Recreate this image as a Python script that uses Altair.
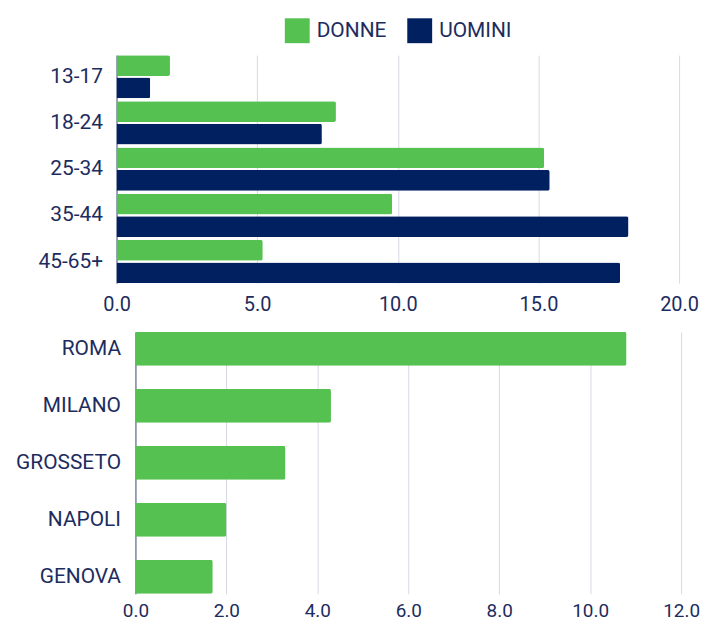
import altair as alt
import pandas as pd

# ---- data ----
age_groups = ["13-17", "18-24", "25-34", "35-44", "45-65+"]
donne = [1.9, 7.8, 15.2, 9.8, 5.2]
uomini = [1.2, 7.3, 15.4, 18.2, 17.9]
genders = ["DONNE", "UOMINI"]
age_ticks = [0, 5, 10, 15, 20]

cities = ["ROMA", "MILANO", "GROSSETO", "NAPOLI", "GENOVA"]
city_values = [10.8, 4.3, 3.3, 2.0, 1.7]
city_ticks = [0, 2, 4, 6, 8, 10, 12]

GREEN = "#55C150"
NAVY = "#002060"
TEXT = "#1d2c5e"
GRID = "#d6dae5"
DOMAIN = "#4a5682"

rows = []
for a, d, u in zip(age_groups, donne, uomini):
    rows.append({"age": a, "gender": "DONNE", "value": d})
    rows.append({"age": a, "gender": "UOMINI", "value": u})
age_df = pd.DataFrame(rows)
city_df = pd.DataFrame({"city": cities, "value": city_values})

top = alt.Chart(age_df).mark_bar(cornerRadiusEnd=2).encode(
    x=alt.X("value:Q",
            scale=alt.Scale(domain=[0, 20], nice=False),
            axis=alt.Axis(values=age_ticks, format=".1f", title=None, grid=True,
                          domain=False, ticks=False, labelPadding=11,
                          labelFlush=False)),
    y=alt.Y("age:N", sort=age_groups,
            scale=alt.Scale(paddingInner=0.065, paddingOuter=0),
            axis=alt.Axis(title=None, ticks=False, labelPadding=14, grid=False,
                          domain=True, domainColor=DOMAIN)),
    yOffset=alt.YOffset("gender:N", sort=genders,
                        scale=alt.Scale(paddingInner=0.075, paddingOuter=0)),
    color=alt.Color("gender:N", sort=genders,
                    scale=alt.Scale(domain=genders, range=[GREEN, NAVY]),
                    legend=alt.Legend(orient="none", legendX=169, legendY=-37,
                                      direction="horizontal", title=None,
                                      symbolType="square", symbolSize=625,
                                      symbolStrokeWidth=0, symbolOpacity=1,
                                      labelFontSize=21, labelFont="Roboto",
                                      labelColor=TEXT, labelOffset=7,
                                      columnPadding=20)),
).properties(width=565, height=229)

bottom = alt.Chart(city_df).mark_bar(cornerRadiusEnd=2, color=GREEN).encode(
    x=alt.X("value:Q",
            scale=alt.Scale(domain=[0, 12], nice=False, range=[19, 567]),
            axis=alt.Axis(values=city_ticks, format=".1f", title=None, grid=True,
                          domain=False, ticks=False, labelPadding=8,
                          labelFlush=False, labelFontSize=19)),
    y=alt.Y("city:N", sort=cities,
            scale=alt.Scale(paddingInner=0.405, paddingOuter=0),
            axis=alt.Axis(title=None, ticks=False, labelPadding=15, offset=-19,
                          grid=False, domain=True, domainColor=DOMAIN)),
).properties(width=567, height=263)

chart = alt.vconcat(top, bottom, spacing=18).properties(
    padding={"left": 7, "top": 9, "right": 0, "bottom": 0}
).configure_view(stroke=None).configure_axis(
    labelFont="Roboto", labelColor=TEXT, labelFontSize=20, gridColor=GRID,
    gridWidth=1
).configure_axisY(labelFontSize=21)

chart.save("out.html", embed_options={"renderer": "svg", "actions": False})
